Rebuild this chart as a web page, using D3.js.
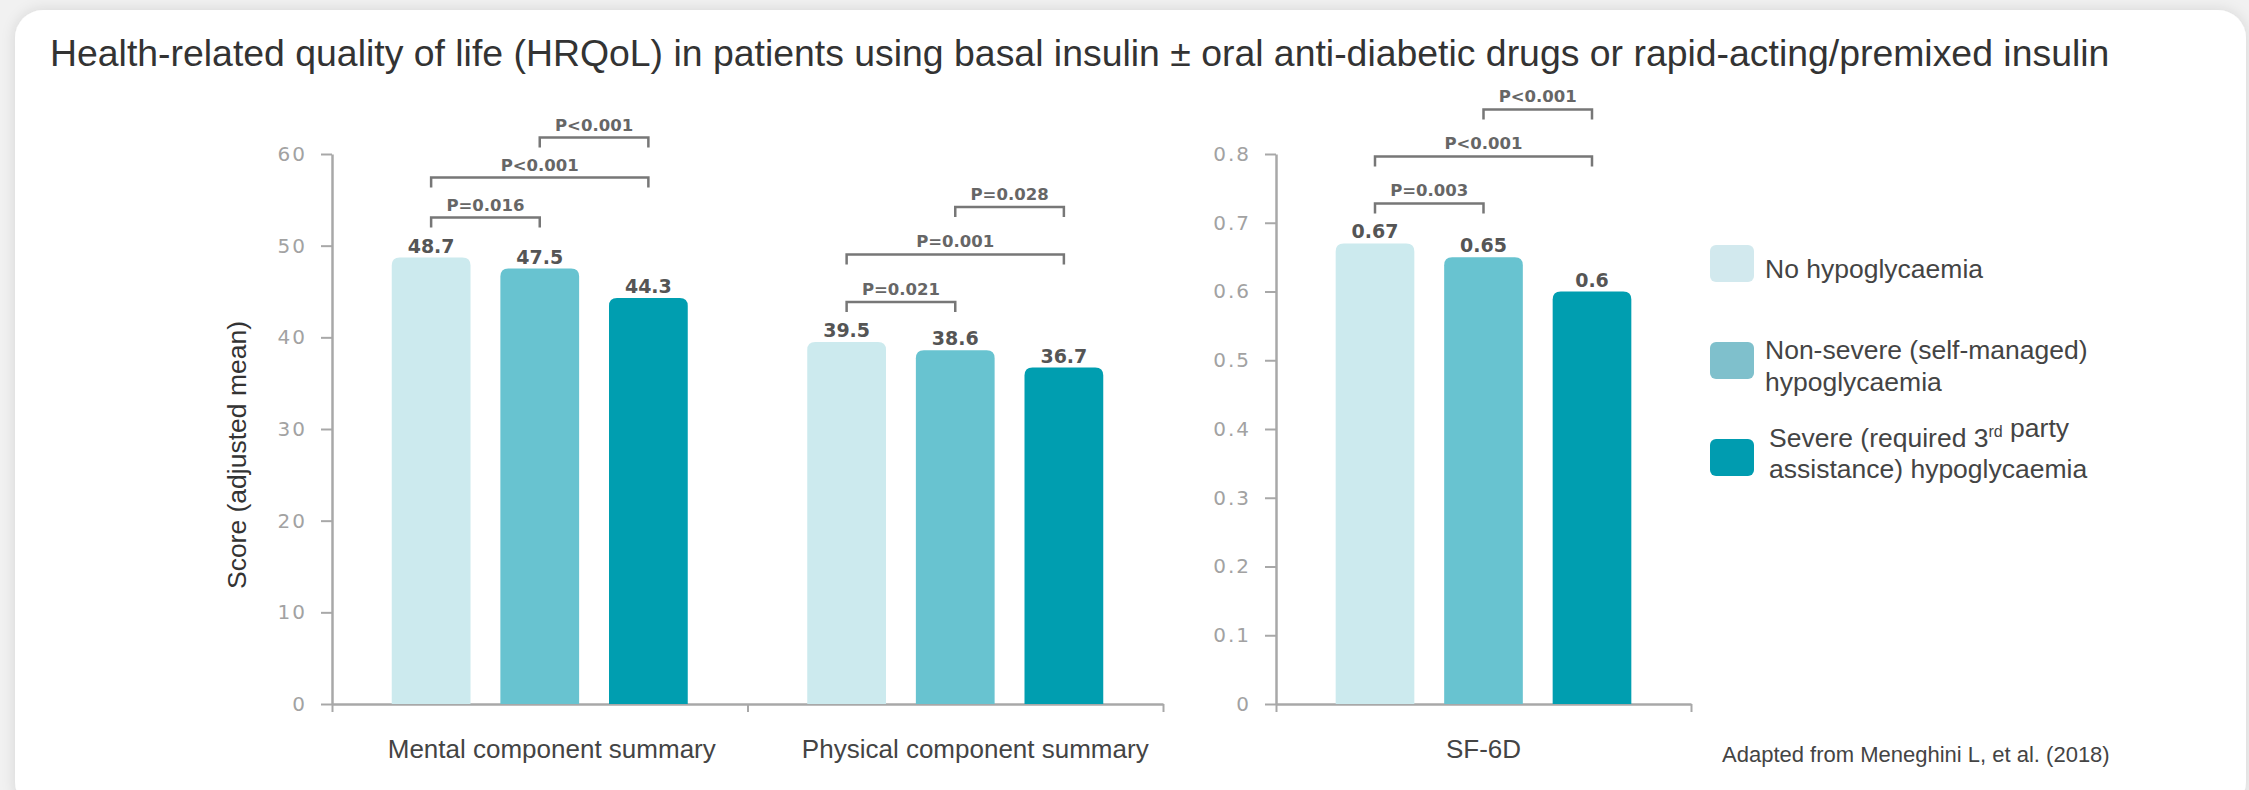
<!DOCTYPE html>
<html>
<head>
<meta charset="utf-8">
<script src="https://cdn.jsdelivr.net/npm/d3@7"></script>
<style>
  html, body { margin: 0; padding: 0; background: #f1f1f1; }
  svg { display: block; }
  .tick text { font-family: "DejaVu Sans", sans-serif; }
</style>
</head>
<body>
<div id="chart"></div>
<script>
// ---- data ----
var categories = ["Mental component summary", "Physical component summary", "SF-6D"];
var groups = ["No hypoglycaemia", "Non-severe (self-managed) hypoglycaemia", "Severe (required 3rd party assistance) hypoglycaemia"];
var noHypo    = [48.7, 39.5, 0.67];
var nonSevere = [47.5, 38.6, 0.65];
var severe    = [44.3, 36.7, 0.6];
var ticksScore = [0, 10, 20, 30, 40, 50, 60];
var ticksSF6D  = [0, 0.1, 0.2, 0.3, 0.4, 0.5, 0.6, 0.7, 0.8];
// comparisons: bar 1 vs 2, 1 vs 3, 2 vs 3
var pairs = [[0, 1], [0, 2], [1, 2]];
var pMental   = ["P=0.016", "P<0.001", "P<0.001"];
var pPhysical = ["P=0.021", "P=0.001", "P=0.028"];
var pSF6D     = ["P=0.003", "P<0.001", "P<0.001"];
var legendLines = [["No hypoglycaemia"], ["Non-severe (self-managed)", "hypoglycaemia"], ["Severe (required 3{rd} party", "assistance) hypoglycaemia"]];

var colors = ["#cceaee", "#68c3d0", "#009eb0"];
var legendColors = ["#d2e9ee", "#7fc0cc", "#009cb0"];
var series = [noHypo, nonSevere, severe];
var pvals = [pMental, pPhysical, pSF6D];
var catShift = [12, 20, 0];   // labels sit a little right of the band centre in the original

var W = 2249, H = 790;
var svg = d3.select("#chart").append("svg")
    .attr("width", W)
    .attr("height", H);

var defs = svg.append("defs");
var f = defs.append("filter").attr("id", "shadow").attr("x", "-5%").attr("y", "-5%").attr("width", "110%").attr("height", "115%");
f.append("feDropShadow").attr("dx", 0).attr("dy", 0).attr("stdDeviation", 7).attr("flood-color", "#000").attr("flood-opacity", 0.12);

svg.append("rect").attr("width", W).attr("height", H).attr("fill", "#f1f1f1");
svg.append("rect")
    .attr("x", 15).attr("y", 10)
    .attr("width", 2231).attr("height", 800)
    .attr("rx", 28)
    .attr("fill", "#fff")
    .attr("filter", "url(#shadow)");

svg.append("text")
    .attr("x", 50).attr("y", 66)
    .attr("font-family", "'Liberation Sans', Arial, sans-serif")
    .attr("font-size", 37.4)
    .attr("fill", "#333")
    .text("Health-related quality of life (HRQoL) in patients using basal insulin \u00b1 oral anti-diabetic drugs or rapid-acting/premixed insulin");

var plotTop = 154, plotBottom = 704;

var panels = [
  {left: 332, right: 1163, domain: [0, 60], ticks: ticksScore, cats: [0, 1], spacing: [40, 47.5]},
  {left: 1276, right: 1691, domain: [0, 0.8], ticks: ticksSF6D, cats: [2], spacing: [47]}
];

panels.forEach(function(p) {
  var g = svg.append("g").attr("transform", "translate(" + p.left + ",0)");
  var width = p.right - p.left;

  var y = d3.scaleLinear().domain(p.domain).range([plotBottom, plotTop]);
  var x0 = d3.scaleBand().domain(p.cats).range([0, width]);
  var x1 = d3.scaleBand().domain([0, 1, 2]).range([0, x0.bandwidth()]).paddingInner(0.275).paddingOuter(0.55);

  // y axis
  var ya = g.append("g")
      .attr("class", "y axis")
      .call(d3.axisLeft(y).tickValues(p.ticks).tickSize(11).tickSizeOuter(0).tickPadding(14).tickFormat(d3.format("~g")));
  ya.select(".domain").attr("stroke", "#a8a8a8").attr("stroke-width", 2.5);
  ya.selectAll(".tick line").attr("stroke", "#a8a8a8").attr("stroke-width", 2);
  ya.selectAll(".tick text").attr("font-size", 20).attr("fill", "#a2a2a2").attr("letter-spacing", 2);

  // x axis with ticks at category boundaries
  var xb = d3.scaleLinear().domain([0, p.cats.length]).range([0, width]);
  var xa = g.append("g")
      .attr("class", "x axis")
      .attr("transform", "translate(0," + plotBottom + ")")
      .call(d3.axisBottom(xb).tickValues(d3.range(p.cats.length + 1)).tickSize(8).tickSizeOuter(0).tickFormat(""));
  xa.select(".domain").attr("stroke", "#a8a8a8").attr("stroke-width", 2.5);
  xa.selectAll(".tick line").attr("stroke", "#a8a8a8").attr("stroke-width", 2);

  // category labels
  g.selectAll(".cat")
    .data(p.cats)
    .enter().append("text")
      .attr("class", "cat")
      .attr("x", function(c) { return x0(c) + x0.bandwidth() / 2 + catShift[c]; })
      .attr("y", 758)
      .attr("text-anchor", "middle")
      .attr("font-family", "'Liberation Sans', Arial, sans-serif")
      .attr("font-size", 26)
      .attr("fill", "#444")
      .text(function(c) { return categories[c]; });

  p.cats.forEach(function(c, ci) {
    var cg = g.append("g").attr("transform", "translate(" + x0(c) + ",0)");
    var vals = series.map(function(s) { return s[c]; });
    var bw = x1.bandwidth(), r = 8;

    cg.selectAll(".bar")
      .data(vals)
      .enter().append("path")
        .attr("class", "bar")
        .attr("fill", function(d, i) { return colors[i]; })
        .attr("d", function(d, i) {
          var bx = x1(i), by = y(d), b0 = y(0);
          return "M" + bx + "," + b0 + "V" + (by + r) +
                 "Q" + bx + "," + by + " " + (bx + r) + "," + by +
                 "H" + (bx + bw - r) +
                 "Q" + (bx + bw) + "," + by + " " + (bx + bw) + "," + (by + r) +
                 "V" + b0 + "Z";
        });

    cg.selectAll(".val")
      .data(vals)
      .enter().append("text")
        .attr("class", "val")
        .attr("x", function(d, i) { return x1(i) + bw / 2; })
        .attr("y", function(d) { return y(d) - 5; })
        .attr("text-anchor", "middle")
        .attr("font-family", "'DejaVu Sans', sans-serif")
        .attr("font-weight", "bold")
        .attr("font-size", 19)
        .attr("fill", "#555")
        .text(function(d) { return d; });

    // significance brackets
    var base = y(d3.max(vals)) - 40;
    var sp = p.spacing[ci];
    pairs.forEach(function(pr, k) {
      var ly = base - k * sp;
      var xa_ = x1(pr[0]) + bw / 2, xb_ = x1(pr[1]) + bw / 2;
      cg.append("path")
        .attr("d", "M" + xa_ + "," + (ly + 10) + "V" + ly + "H" + xb_ + "V" + (ly + 10))
        .attr("fill", "none")
        .attr("stroke", "#777")
        .attr("stroke-width", 2.5);
      cg.append("text")
        .attr("x", (xa_ + xb_) / 2)
        .attr("y", ly - 7)
        .attr("text-anchor", "middle")
        .attr("font-family", "'DejaVu Sans', sans-serif")
        .attr("font-weight", "bold")
        .attr("font-size", 16.5)
        .attr("fill", "#666")
        .text(pvals[c][k]);
    });
  });
});

// y axis title
svg.append("text")
    .attr("transform", "translate(237,455) rotate(-90)")
    .attr("dy", "0.35em")
    .attr("text-anchor", "middle")
    .attr("font-family", "'Liberation Sans', Arial, sans-serif")
    .attr("font-size", 26.5)
    .attr("fill", "#333")
    .text("Score (adjusted mean)");

// legend
var lg = svg.append("g").attr("class", "legend");
var swY = [245, 342, 439];
var textY = [[278], [359, 391], [447, 478]];
var textX = [1765, 1765, 1769];
legendLines.forEach(function(lines, i) {
  lg.append("rect")
    .attr("x", 1710).attr("y", swY[i])
    .attr("width", 44).attr("height", 37)
    .attr("rx", 6)
    .attr("fill", legendColors[i]);
  lines.forEach(function(line, j) {
    var t = lg.append("text")
      .attr("x", textX[i]).attr("y", textY[i][j])
      .attr("font-family", "'Liberation Sans', Arial, sans-serif")
      .attr("font-size", 26.5)
      .attr("fill", "#444");
    line.split(/(\{[^}]*\})/).forEach(function(part) {
      if (!part) return;
      if (part.charAt(0) === "{") {
        t.append("tspan").attr("font-size", 16).attr("dy", -10).text(part.slice(1, -1));
        t.append("tspan").attr("dy", 10).text("");
      } else {
        t.append("tspan").text(part);
      }
    });
  });
});

svg.append("text")
    .attr("x", 1722).attr("y", 762)
    .attr("font-family", "'Liberation Sans', Arial, sans-serif")
    .attr("font-size", 22)
    .attr("fill", "#444")
    .text("Adapted from Meneghini L, et al. (2018)");
</script>
</body>
</html>
